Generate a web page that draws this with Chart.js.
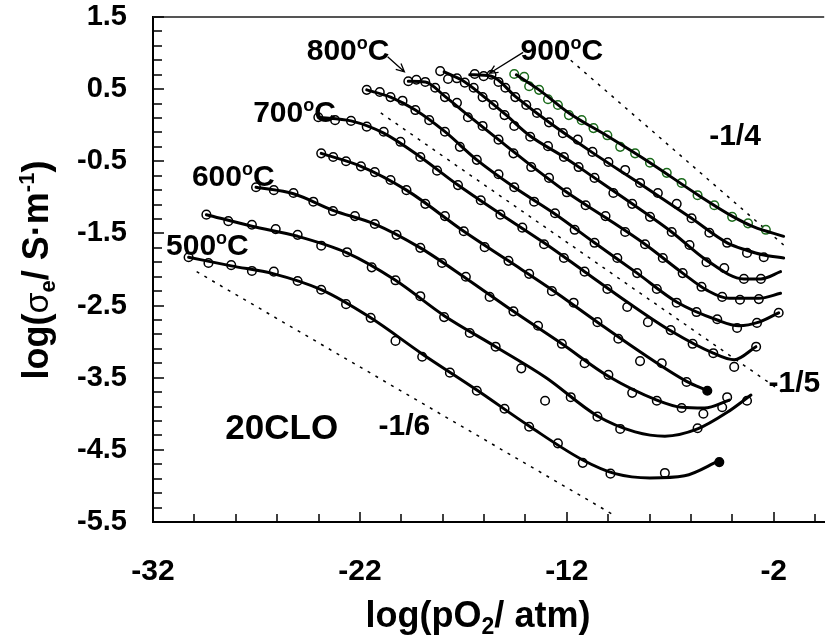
<!DOCTYPE html>
<html>
<head>
<meta charset="utf-8">
<script src="https://cdn.jsdelivr.net/npm/chart.js@4.4.1/dist/chart.umd.min.js"></script>
<style>
  html, body { margin: 0; padding: 0; background: #fff; overflow: hidden; }
  #wrap { width: 830px; height: 636px; position: relative; }
</style>
</head>
<body>
<div id="wrap"><canvas id="c"></canvas></div>
<script>
// ============================================================
// log(sigma_e) vs log(pO2) for 20CLO, 500-950 ºC
// ============================================================

const xTicks = [-32, -22, -12, -2];
const yTicks = [1.5, 0.5, -0.5, -1.5, -2.5, -3.5, -4.5, -5.5];

// ── measured points (m*) and fitted curves (f*) per temperature ──
const t500_mx = [-30.28,-29.32,-28.22,-27.22,-26.16,-25.01,-23.87,-22.67,-21.48,-20.28,-18.99,-17.65,-16.35,-15.01,-13.82,-12.43,-11.23,-9.89,-7.26,-4.63];
const t500_my = [-1.83,-1.91,-1.94,-2.02,-2.03,-2.16,-2.28,-2.48,-2.67,-2.99,-3.21,-3.43,-3.68,-3.93,-4.18,-4.41,-4.68,-4.83,-4.82,-4.67];
const t500_fx = [-30.28,-28.22,-26.16,-23.87,-21.48,-18.99,-16.35,-13.82,-11.23,-9.66,-7.98,-6.31,-4.63];
const t500_fy = [-1.83,-1.95,-2.06,-2.28,-2.67,-3.17,-3.67,-4.17,-4.64,-4.83,-4.89,-4.86,-4.65];

const t550_mx = [-29.42,-28.36,-27.22,-26.07,-25.01,-23.87,-22.62,-21.43,-20.28,-19.08,-17.93,-16.69,-15.44,-14.20,-13.05,-11.81,-10.52,-9.42,-5.68,-3.29];
const t550_my = [-1.24,-1.33,-1.38,-1.44,-1.52,-1.67,-1.76,-1.97,-2.15,-2.37,-2.66,-2.88,-3.07,-3.37,-3.82,-3.77,-4.04,-4.21,-4.20,-3.82];
const t550_fx = [-29.42,-27.22,-25.01,-22.62,-20.28,-17.93,-15.44,-13.00,-10.52,-8.70,-7.26,-5.68,-4.25,-3.10];
const t550_fy = [-1.24,-1.40,-1.54,-1.77,-2.15,-2.64,-3.07,-3.50,-4.03,-4.25,-4.31,-4.21,-3.98,-3.74];

const t600_mx = [-27.02,-26.16,-25.21,-24.25,-23.30,-22.24,-21.28,-20.23,-19.08,-18.03,-16.88,-15.73,-14.58,-13.39,-12.24,-11.14,-9.99,-8.84,-7.65,-6.45,-5.40,-4.49,-4.25];
const t600_my = [-0.86,-0.90,-0.94,-1.06,-1.19,-1.26,-1.37,-1.52,-1.70,-1.91,-2.10,-2.38,-2.58,-2.78,-3.03,-3.30,-3.46,-3.71,-3.82,-3.92,-4.00,-3.91,-3.77];
const t600_fx = [-27.02,-25.21,-23.30,-21.28,-19.08,-16.88,-14.58,-12.24,-9.99,-7.65,-6.45,-5.35,-4.15];
const t600_fy = [-0.86,-0.95,-1.18,-1.37,-1.70,-2.12,-2.58,-3.03,-3.48,-3.81,-3.91,-3.92,-3.81];

const t650_mx = [-23.87,-23.29,-22.67,-21.95,-21.28,-20.52,-19.75,-18.84,-17.89,-16.98,-15.97,-14.82,-13.82,-12.72,-11.67,-10.52,-9.51,-8.46,-7.41,-6.21,-5.21];
const t650_my = [-0.39,-0.44,-0.50,-0.57,-0.65,-0.76,-0.90,-1.09,-1.26,-1.47,-1.69,-1.88,-2.06,-2.30,-2.46,-2.73,-2.96,-3.27,-3.30,-3.56,-3.68];
const t650_fx = [-23.87,-21.95,-19.75,-16.98,-14.82,-12.72,-10.52,-8.46,-6.21,-5.21];
const t650_fy = [-0.39,-0.57,-0.90,-1.47,-1.88,-2.28,-2.73,-3.14,-3.55,-3.68];

const t700_mx = [-24.01,-23.20,-22.43,-21.67,-20.85,-20.04,-19.08,-18.27,-17.26,-16.16,-15.21,-14.15,-13.10,-12.14,-11.14,-10.04,-9.08,-8.08,-6.98,-5.92,-4.92,-3.91,-2.85];
const t700_my = [0.11,0.07,0.06,-0.02,-0.09,-0.23,-0.44,-0.63,-0.83,-1.04,-1.24,-1.42,-1.65,-1.84,-2.03,-2.27,-2.52,-2.73,-2.84,-3.03,-3.16,-3.35,-3.07];
const t700_fx = [-24.01,-22.43,-20.85,-19.08,-17.26,-15.21,-13.10,-11.14,-9.08,-6.98,-4.92,-3.91,-2.86];
const t700_fy = [0.11,0.06,-0.11,-0.44,-0.83,-1.23,-1.63,-2.03,-2.45,-2.85,-3.16,-3.25,-3.07];

const t750_mx = [-21.67,-21.04,-20.52,-19.94,-19.32,-18.65,-17.89,-17.17,-16.35,-15.30,-14.54,-13.58,-12.57,-11.62,-10.66,-9.56,-8.60,-7.65,-6.69,-5.73,-4.73,-3.77,-2.81,-1.76];
const t750_my = [0.49,0.46,0.39,0.34,0.21,0.07,-0.09,-0.30,-0.48,-0.68,-0.86,-1.06,-1.22,-1.45,-1.63,-1.84,-2.05,-2.27,-2.46,-2.59,-2.69,-2.81,-2.74,-2.60];
const t750_fx = [-21.67,-20.52,-19.32,-17.89,-16.35,-14.54,-12.57,-10.66,-8.60,-6.69,-4.73,-3.68,-2.72,-1.76];
const t750_fy = [0.49,0.39,0.21,-0.09,-0.48,-0.86,-1.23,-1.63,-2.05,-2.45,-2.70,-2.78,-2.73,-2.60];

const t800_mx = [-19.66,-19.27,-18.84,-18.36,-17.89,-17.31,-16.78,-16.07,-15.30,-14.58,-13.72,-12.86,-12.00,-11.09,-10.13,-9.18,-8.22,-7.36,-6.40,-5.49,-4.49,-3.63,-2.72];
const t800_my = [0.61,0.63,0.60,0.52,0.39,0.31,0.11,-0.01,-0.20,-0.39,-0.58,-0.73,-0.93,-1.11,-1.26,-1.48,-1.65,-1.84,-2.05,-2.24,-2.38,-2.42,-2.41];
const t800_fx = [-19.66,-18.84,-17.89,-16.78,-15.30,-13.72,-12.00,-10.13,-8.22,-6.40,-5.21,-4.16,-2.72,-1.67];
const t800_fy = [0.61,0.60,0.40,0.14,-0.20,-0.56,-0.93,-1.28,-1.65,-2.05,-2.29,-2.40,-2.40,-2.33];

const t850_mx = [-18.12,-17.74,-17.31,-16.93,-16.50,-16.07,-15.54,-15.01,-14.54,-13.77,-12.91,-12.14,-11.43,-10.66,-9.75,-8.84,-7.98,-6.93,-6.07,-5.25,-4.39,-3.44,-2.62];
const t850_my = [0.75,0.64,0.65,0.59,0.52,0.39,0.28,0.14,-0.01,-0.16,-0.29,-0.44,-0.58,-0.73,-0.94,-1.09,-1.27,-1.48,-1.66,-1.90,-1.98,-2.13,-2.13];
const t850_fx = [-17.93,-16.93,-16.07,-15.01,-13.77,-12.14,-10.66,-8.84,-6.93,-5.25,-3.44,-2.62,-1.67];
const t850_fy = [0.74,0.60,0.41,0.16,-0.15,-0.44,-0.73,-1.09,-1.48,-1.87,-2.13,-2.13,-2.03];

const t900_mx = [-16.45,-16.02,-15.64,-15.30,-14.97,-14.49,-13.96,-13.44,-12.86,-12.19,-11.47,-10.76,-9.99,-9.18,-8.46,-7.60,-6.69,-5.97,-5.11,-4.25,-3.29,-2.48];
const t900_my = [0.71,0.68,0.70,0.60,0.52,0.39,0.28,0.17,0.04,-0.11,-0.20,-0.37,-0.51,-0.62,-0.80,-0.94,-1.09,-1.29,-1.49,-1.63,-1.77,-1.83];
const t900_fx = [-16.69,-15.64,-14.49,-12.86,-10.76,-8.46,-5.97,-4.25,-3.34,-2.48,-1.52];
const t900_fy = [0.70,0.68,0.40,0.04,-0.38,-0.81,-1.29,-1.63,-1.73,-1.80,-1.84];

const t950_mx = [-14.54,-14.06,-13.82,-13.34,-12.91,-12.43,-11.90,-11.28,-10.71,-10.04,-9.42,-8.70,-7.98,-7.17,-6.45,-5.68,-4.87,-4.01,-3.24,-2.38];
const t950_my = [0.71,0.67,0.54,0.49,0.36,0.28,0.14,0.07,-0.04,-0.14,-0.30,-0.39,-0.52,-0.66,-0.80,-0.97,-1.11,-1.27,-1.36,-1.45];
const t950_fx = [-14.44,-13.34,-11.90,-10.04,-7.98,-5.64,-4.01,-2.96,-1.52];
const t950_fy = [0.70,0.49,0.17,-0.15,-0.52,-0.97,-1.26,-1.41,-1.54];

// ── slope guide lines ──
const s4_x = [-11.81, -1.52], s4_y = [0.90, -1.66];
const s5_x = [-20.99, -1.52], s5_y = [0.17, -3.71];
const s6_x = [-29.89, -9.75], s6_y = [-2.03, -5.40];

// ── annotations (data coordinates) ──
const tempText = ['500', '600', '700', '800', '900'];
const tempX    = [-29.37, -28.12, -25.16, -22.57, -12.24];
const tempY    = [-1.65, -0.69, 0.20, 1.06, 1.06];
const slopeText = ['-1/4', '-1/5', '-1/6'];
const slopeX    = [-3.87, -1.00, -19.85];
const slopeY    = [-0.12, -3.55, -4.14];
const arrowFrom = [[-20.66, 0.95], [-14.11, 1.01]];
const arrowTo   = [[-19.85, 0.74], [-15.73, 0.72]];

const FONT = '"Liberation Sans", Arial, sans-serif';
const pts = (xs, ys) => xs.map((v, i) => ({ x: v, y: ys[i] }));

const curves = [
  { mx: t500_mx, my: t500_my, fx: t500_fx, fy: t500_fy, col: '#000', fillEnd: true },
  { mx: t550_mx, my: t550_my, fx: t550_fx, fy: t550_fy, col: '#000' },
  { mx: t600_mx, my: t600_my, fx: t600_fx, fy: t600_fy, col: '#000' },
  { mx: t650_mx, my: t650_my, fx: t650_fx, fy: t650_fy, col: '#000', fillEnd: true },
  { mx: t700_mx, my: t700_my, fx: t700_fx, fy: t700_fy, col: '#000' },
  { mx: t750_mx, my: t750_my, fx: t750_fx, fy: t750_fy, col: '#000' },
  { mx: t800_mx, my: t800_my, fx: t800_fx, fy: t800_fy, col: '#000' },
  { mx: t850_mx, my: t850_my, fx: t850_fx, fy: t850_fy, col: '#000' },
  { mx: t900_mx, my: t900_my, fx: t900_fx, fy: t900_fy, col: '#000' },
  { mx: t950_mx, my: t950_my, fx: t950_fx, fy: t950_fy, col: '#1b6b1b' },
];

const datasets = [];
curves.forEach(c => {
  datasets.push({
    data: pts(c.fx, c.fy), showLine: true, pointRadius: 0,
    borderColor: '#000', borderWidth: 3, cubicInterpolationMode: 'monotone',
    borderCapStyle: 'round', borderJoinStyle: 'round', order: 0
  });
  datasets.push({
    data: pts(c.mx, c.my), showLine: false, pointStyle: 'circle',
    pointRadius: 4.3, pointBorderWidth: 1.5, pointBorderColor: c.col,
    pointBackgroundColor: ctx => (c.fillEnd && ctx.dataIndex === c.mx.length - 1) ? '#000' : 'rgba(0,0,0,0)',
    order: 1
  });
});
[[s4_x, s4_y], [s5_x, s5_y], [s6_x, s6_y]].forEach(([xs, ys]) => {
  datasets.push({
    data: pts(xs, ys), showLine: true, pointRadius: 0,
    borderColor: '#000', borderWidth: 1.5, borderDash: [3, 6], order: 2
  });
});

// runs of text with sub/superscripts, centred on cx
function drawRuns(ctx, runs, cx, base) {
  let total = 0;
  runs.forEach(r => { ctx.font = r.font; r.w = ctx.measureText(r.t).width; total += r.w; });
  let x = cx - total / 2;
  runs.forEach(r => { ctx.font = r.font; ctx.fillText(r.t, x, base + (r.dy || 0)); x += r.w; });
}

const decor = {
  id: 'decor',
  afterDraw(chart) {
    const { ctx, chartArea: a, scales: { x, y } } = chart;
    ctx.save();
    // top frame line
    ctx.strokeStyle = '#555'; ctx.lineWidth = 2;
    ctx.beginPath(); ctx.moveTo(a.left, a.top); ctx.lineTo(a.right, a.top); ctx.stroke();

    // inward tick marks
    ctx.strokeStyle = '#000'; ctx.lineWidth = 1.5;
    ctx.beginPath();
    for (let i = 0; i <= 35; i++) {
      const p = Math.round(y.getPixelForValue(1.5 - 0.2 * i));
      const len = i % 5 === 0 ? 11 : 9;
      ctx.moveTo(a.left, p); ctx.lineTo(a.left + len, p);
    }
    for (let v = -32; v <= 0; v += 2) {
      const p = Math.round(x.getPixelForValue(v));
      const len = (v + 32) % 10 === 0 ? 10 : 8;
      ctx.moveTo(p, a.bottom); ctx.lineTo(p, a.bottom - len);
    }
    ctx.stroke();

    ctx.fillStyle = '#000';
    ctx.textAlign = 'left';
    ctx.textBaseline = 'alphabetic';

    // temperature labels: 500ºC ...
    tempText.forEach((t, i) => {
      const cx = x.getPixelForValue(tempX[i]);
      const base = y.getPixelForValue(tempY[i]) + 11;
      drawRuns(ctx, [
        { t: t, font: 'bold 30px ' + FONT },
        { t: 'o', font: 'bold 18px ' + FONT, dy: -11 },
        { t: 'C', font: 'bold 30px ' + FONT }
      ], cx, base);
    });

    // slope labels
    slopeText.forEach((t, i) => {
      const cx = x.getPixelForValue(slopeX[i]);
      const base = y.getPixelForValue(slopeY[i]) + 11;
      drawRuns(ctx, [{ t: t, font: 'bold 30px ' + FONT }], cx, base);
    });

    // sample name
    drawRuns(ctx, [{ t: '20CLO', font: 'bold 35px ' + FONT }],
      x.getPixelForValue(-25.78), y.getPixelForValue(-4.17) + 12.5);

    // arrows to 800ºC and 900ºC curves
    ctx.lineWidth = 1.3;
    arrowFrom.forEach((f, i) => {
      const x0 = x.getPixelForValue(f[0]), y0 = y.getPixelForValue(f[1]);
      const x1 = x.getPixelForValue(arrowTo[i][0]), y1 = y.getPixelForValue(arrowTo[i][1]);
      const ang = Math.atan2(y1 - y0, x1 - x0);
      ctx.beginPath();
      ctx.moveTo(x0, y0); ctx.lineTo(x1, y1);
      ctx.moveTo(x1 - 9 * Math.cos(ang - 0.45), y1 - 9 * Math.sin(ang - 0.45));
      ctx.lineTo(x1, y1);
      ctx.lineTo(x1 - 9 * Math.cos(ang + 0.45), y1 - 9 * Math.sin(ang + 0.45));
      ctx.stroke();
    });

    // x title: log(pO2/ atm)
    drawRuns(ctx, [
      { t: 'log(pO', font: 'bold 36px ' + FONT },
      { t: '2', font: 'bold 23px ' + FONT, dy: 7 },
      { t: '/ atm)', font: 'bold 36px ' + FONT }
    ], 478, 627);

    // y title: log(σe/ S·m-1)
    ctx.translate(48, 270);
    ctx.rotate(-Math.PI / 2);
    drawRuns(ctx, [
      { t: 'log(', font: 'bold 36px ' + FONT },
      { t: 'σ', font: '34px ' + FONT },
      { t: 'e', font: 'bold 22px ' + FONT, dy: 7 },
      { t: '/ S·m', font: 'bold 36px ' + FONT },
      { t: '-1', font: 'bold 22px ' + FONT, dy: -14 },
      { t: ')', font: 'bold 36px ' + FONT }
    ], 0, 0);
    ctx.restore();
  }
};

new Chart(document.getElementById('c'), {
  type: 'scatter',
  data: { datasets },
  options: {
    responsive: true,
    maintainAspectRatio: false,
    animation: false,
    devicePixelRatio: 1,
    layout: { padding: { top: 17, right: 0, bottom: 0, left: 0 } },
    plugins: { legend: { display: false }, tooltip: { enabled: false } },
    scales: {
      x: {
        type: 'linear', min: -32, max: 0.44,
        afterBuildTicks: s => { s.ticks = xTicks.map(v => ({ value: v })); },
        afterFit: s => { s.height = 114; s.paddingLeft = 0; s.paddingRight = 0; },
        grid: { display: true, drawOnChartArea: false, drawTicks: false },
        border: { display: true, color: '#000', width: 2 },
        ticks: {
          color: '#000', padding: 35, maxRotation: 0, autoSkip: false,
          font: { family: FONT, size: 30, weight: 'bold', lineHeight: 1 },
          callback: v => String(v)
        }
      },
      y: {
        type: 'linear', min: -5.5, max: 1.5,
        afterBuildTicks: s => { s.ticks = yTicks.map(v => ({ value: v })); },
        afterFit: s => { s.width = 153; s.paddingTop = 0; s.paddingBottom = 0; },
        grid: { display: true, drawOnChartArea: false, drawTicks: false },
        border: { display: true, color: '#000', width: 2 },
        ticks: {
          color: '#000', padding: 26, autoSkip: false,
          font: { family: FONT, size: 29, weight: 'bold', lineHeight: 1 },
          callback: v => v.toFixed(1)
        }
      }
    }
  },
  plugins: [decor]
});
</script>
</body>
</html>
